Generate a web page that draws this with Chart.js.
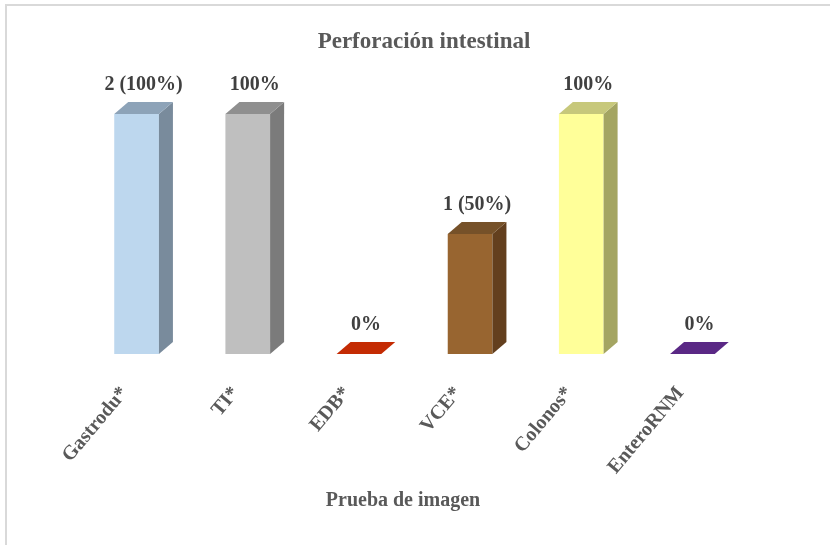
<!DOCTYPE html>
<html>
<head>
<meta charset="utf-8">
<script src="https://cdn.jsdelivr.net/npm/chart.js@4"></script>
<style>
  html, body { margin: 0; padding: 0; background: #fff; }
  #wrap { width: 830px; height: 545px; position: relative; }
</style>
</head>
<body>
<div id="wrap"><canvas id="perfChart" width="830" height="545"></canvas></div>
<script>
const categories = ['Gastrodu*', 'TI*', 'EDB*', 'VCE*', 'Colonos*', 'EnteroRNM'];
const percentValues = [100, 100, 0, 50, 100, 0];
const valueLabels = ['2 (100%)', '100%', '0%', '1 (50%)', '100%', '0%'];

const frontColors = ['#BDD7EE', '#BFBFBF', '#C42B03', '#986530', '#FFFF99', '#5A2885'];
const sideColors  = ['#798B9C', '#7B7B7B', '#8A1E02', '#633F1E', '#A4A562', '#3D1A5A'];
const topColors   = ['#8DA3B8', '#8F8F8F', '#C42B03', '#765129', '#C7C87B', '#5A2885'];

const DEPTH_X = 14;
const DEPTH_Y = 12;
const serif = "'Liberation Serif', 'Times New Roman', serif";

// draws side + top faces so the bars look like boxes, then the value labels
const boxBars = {
    id: 'boxBars',
    afterDatasetsDraw(chart) {
        const ctx = chart.ctx;
        const meta = chart.getDatasetMeta(0);
        ctx.save();
        meta.data.forEach((bar, i) => {
            const p = bar.getProps(['x', 'y', 'base', 'width'], true);
            const left = p.x - p.width / 2;
            const right = p.x + p.width / 2;

            ctx.fillStyle = sideColors[i];
            ctx.beginPath();
            ctx.moveTo(right, p.y);
            ctx.lineTo(right + DEPTH_X, p.y - DEPTH_Y);
            ctx.lineTo(right + DEPTH_X, p.base - DEPTH_Y);
            ctx.lineTo(right, p.base);
            ctx.closePath();
            ctx.fill();

            ctx.fillStyle = topColors[i];
            ctx.beginPath();
            ctx.moveTo(left, p.y);
            ctx.lineTo(left + DEPTH_X, p.y - DEPTH_Y);
            ctx.lineTo(right + DEPTH_X, p.y - DEPTH_Y);
            ctx.lineTo(right, p.y);
            ctx.closePath();
            ctx.fill();

            ctx.fillStyle = '#404040';
            ctx.font = 'bold 20px ' + serif;
            ctx.textAlign = 'center';
            ctx.textBaseline = 'middle';
            ctx.fillText(valueLabels[i], p.x + DEPTH_X / 2, p.y - DEPTH_Y - 17);
        });
        ctx.restore();
    },
    afterDraw(chart) {
        const ctx = chart.ctx;
        ctx.save();
        // frame edges
        ctx.fillStyle = '#D9D9D9';
        ctx.fillRect(5, 4, 825, 2);
        ctx.fillRect(5, 4, 2, 541);

        ctx.fillStyle = '#595959';
        ctx.textAlign = 'center';
        ctx.textBaseline = 'middle';
        ctx.font = 'bold 23px ' + serif;
        ctx.fillText('Perforación intestinal', 424, 42);
        ctx.font = 'bold 20px ' + serif;
        ctx.fillText('Prueba de imagen', 403, 501);
        ctx.restore();
    }
};

new Chart(document.getElementById('perfChart').getContext('2d'), {
    type: 'bar',
    data: {
        labels: categories,
        datasets: [{
            data: percentValues,
            backgroundColor: frontColors,
            borderWidth: 0,
            categoryPercentage: 1,
            barPercentage: 0.402
        }]
    },
    options: {
        responsive: false,
        animation: false,
        layout: { padding: { left: 81, right: 82, top: 114, bottom: 0 } },
        plugins: {
            legend: { display: false },
            tooltip: { enabled: false },
            title: { display: false }
        },
        scales: {
            x: {
                grid: { display: false, drawTicks: false },
                border: { display: false },
                ticks: {
                    minRotation: 50,
                    maxRotation: 50,
                    padding: 28,
                    labelOffset: -12,
                    color: '#595959',
                    font: { family: serif, size: 20, weight: 'bold' }
                },
                afterFit(scale) { scale.height = 191; }
            },
            y: {
                display: false,
                min: 0,
                max: 100
            }
        }
    },
    plugins: [boxBars]
});
</script>
</body>
</html>
